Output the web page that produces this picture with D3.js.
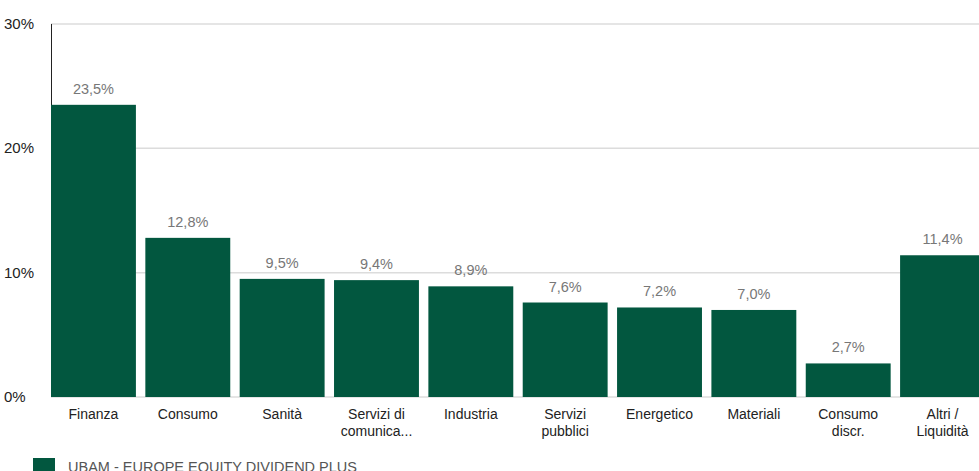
<!DOCTYPE html>
<html>
<head>
<meta charset="utf-8">
<script src="https://cdn.jsdelivr.net/npm/d3@7"></script>
<style>
    body { margin: 0; background: #fff; }
    svg { display: block; font-family: "Liberation Sans", Arial, sans-serif; }
</style>
</head>
<body>
<svg width="979" height="471"></svg>
<script>
"use strict";

// Chart data
var categories = ["Finanza", "Consumo", "Sanità", "Servizi di|comunica...", "Industria",
    "Servizi|pubblici", "Energetico", "Materiali", "Consumo|discr.", "Altri /|Liquidità"];
var values = [23.5, 12.8, 9.5, 9.4, 8.9, 7.6, 7.2, 7.0, 2.7, 11.4];
var yTicks = [0, 10, 20, 30];
var seriesName = "UBAM - EUROPE EQUITY DIVIDEND PLUS";

var svg = d3.select("svg");
var color = "#02573f";

// Scales
var xScale = d3.scaleBand()
    .domain(categories)
    .range([51, 985])
    .paddingInner(0.1)
    .paddingOuter(0);

var yScale = d3.scaleLinear()
    .domain([0, 30])
    .range([397, 24]);

// Gridlines
svg.append("g")
        .attr("class", "grid")
    .selectAll("line")
    .data(yTicks)
    .enter().append("line")
        .attr("x1", 51)
        .attr("x2", 979)
        .attr("y1", function(d) { return yScale(d); })
        .attr("y2", function(d) { return yScale(d); })
        .attr("stroke", "#dcdcdc")
        .attr("stroke-width", 1.5);

// Y axis line
svg.append("line")
    .attr("x1", 51.5)
    .attr("x2", 51.5)
    .attr("y1", yScale(30))
    .attr("y2", yScale(0))
    .attr("stroke", "#222")
    .attr("stroke-width", 1);

// Y tick labels
svg.append("g")
        .attr("class", "y-labels")
    .selectAll("text")
    .data(yTicks)
    .enter().append("text")
        .attr("x", 4)
        .attr("y", function(d) { return yScale(d) + 5; })
        .style("font-size", "15px")
        .style("fill", "#222")
        .text(function(d) { return d + "%"; });

// Bars
svg.append("g")
        .attr("class", "bars")
    .selectAll("rect")
    .data(values)
    .enter().append("rect")
        .attr("x", function(d, i) { return xScale(categories[i]); })
        .attr("y", function(d) { return yScale(d); })
        .attr("width", xScale.bandwidth())
        .attr("height", function(d) { return yScale(0) - yScale(d); })
        .attr("fill", color);

// Value labels
svg.append("g")
        .attr("class", "values")
    .selectAll("text")
    .data(values)
    .enter().append("text")
        .attr("x", function(d, i) { return xScale(categories[i]) + xScale.bandwidth() / 2; })
        .attr("y", function(d) { return yScale(d) - 11; })
        .style("text-anchor", "middle")
        .style("font-size", "14.5px")
        .style("fill", "#777")
        .text(function(d) { return d.toFixed(1).replace(".", ",") + "%"; });

// Category labels
var catLabels = svg.append("g")
        .attr("class", "categories")
    .selectAll("text")
    .data(categories)
    .enter().append("text")
        .attr("x", function(d) { return xScale(d) + xScale.bandwidth() / 2; })
        .attr("y", 419)
        .style("text-anchor", "middle")
        .style("font-size", "14px")
        .style("fill", "#222");

catLabels.each(function(d) {
    var t = d3.select(this);
    d.split("|").forEach(function(line, j) {
        t.append("tspan")
            .attr("x", t.attr("x"))
            .attr("dy", j === 0 ? 0 : 17)
            .text(line);
    });
});

// Legend
svg.append("rect")
    .attr("x", 33)
    .attr("y", 458)
    .attr("width", 22)
    .attr("height", 16)
    .attr("fill", color);

svg.append("text")
    .attr("x", 68)
    .attr("y", 472)
    .style("font-size", "14.5px")
    .style("fill", "#555")
    .text(seriesName);
</script>
</body>
</html>
